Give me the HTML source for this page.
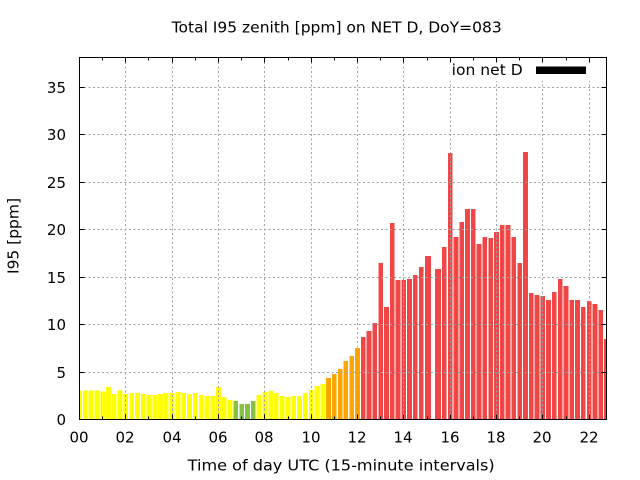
<!DOCTYPE html>
<html>
<head>
<meta charset="utf-8">
<style>
html,body{margin:0;padding:0;background:#fff;}
svg{display:block;}
text{font-family:"DejaVu Sans","Liberation Sans",sans-serif;font-size:15px;fill:#000;}
</style>
</head>
<body>
<svg width="640" height="480" viewBox="0 0 640 480" xmlns="http://www.w3.org/2000/svg">
<rect x="0" y="0" width="640" height="480" fill="#fff"/>
<g shape-rendering="crispEdges" stroke="none">
<path fill="#ffff00" d="M79.5 390.7h2.4V419.5H79.5Z M82.94 390.7h4.7V419.5h-4.7Z M88.73 390.7h4.7V419.5h-4.7Z M94.52 390.7h4.7V419.5h-4.7Z M100.31 391.7h4.7V419.5h-4.7Z M106.11 387h4.7V419.5h-4.7Z M111.9 394h4.7V419.5h-4.7Z M117.69 390.7h4.7V419.5h-4.7Z M123.48 394h4.7V419.5h-4.7Z M129.27 393h4.7V419.5h-4.7Z M135.06 393h4.7V419.5h-4.7Z M140.85 394h4.7V419.5h-4.7Z M146.64 395h4.7V419.5h-4.7Z M152.43 395h4.7V419.5h-4.7Z M158.22 394h4.7V419.5h-4.7Z M164.02 393h4.7V419.5h-4.7Z M169.81 393h4.7V419.5h-4.7Z M175.6 392h4.7V419.5h-4.7Z M181.39 393h4.7V419.5h-4.7Z M187.18 394h4.7V419.5h-4.7Z M192.97 393h4.7V419.5h-4.7Z M198.76 395h4.7V419.5h-4.7Z M204.55 396h4.7V419.5h-4.7Z M210.34 396h4.7V419.5h-4.7Z M216.13 387h4.7V419.5h-4.7Z M221.93 397h4.7V419.5h-4.7Z M227.72 400h4.7V419.5h-4.7Z M256.67 395h4.7V419.5h-4.7Z M262.46 392h4.7V419.5h-4.7Z M268.25 391h4.7V419.5h-4.7Z M274.04 393h4.7V419.5h-4.7Z M279.84 396h4.7V419.5h-4.7Z M285.63 397h4.7V419.5h-4.7Z M291.42 396h4.7V419.5h-4.7Z M297.21 396h4.7V419.5h-4.7Z M303 393h4.7V419.5h-4.7Z M308.79 390h4.7V419.5h-4.7Z M314.58 386h4.7V419.5h-4.7Z M320.37 384h4.7V419.5h-4.7Z"/>
<path fill="#86c242" d="M233.51 401h4.7V419.5h-4.7Z M239.3 404h4.7V419.5h-4.7Z M245.09 404h4.7V419.5h-4.7Z M250.88 401h4.7V419.5h-4.7Z"/>
<path fill="#ffa500" d="M326.16 378h4.7V419.5h-4.7Z M331.95 374h4.7V419.5h-4.7Z M337.75 369h4.7V419.5h-4.7Z M343.54 361h4.7V419.5h-4.7Z M349.33 356h4.7V419.5h-4.7Z M355.12 348h4.7V419.5h-4.7Z"/>
<path fill="#f04646" d="M360.91 337h4.7V419.5h-4.7Z M366.7 331h4.7V419.5h-4.7Z M372.49 323h4.7V419.5h-4.7Z M378.28 263h4.7V419.5h-4.7Z M384.07 307h4.7V419.5h-4.7Z M389.86 223h4.7V419.5h-4.7Z M395.66 280h4.7V419.5h-4.7Z M401.45 280h4.7V419.5h-4.7Z M407.24 279h4.7V419.5h-4.7Z M413.03 275h4.7V419.5h-4.7Z M418.82 267h4.7V419.5h-4.7Z M424.8 256h6.2V419.5h-6.2Z M434.8 269h6V419.5h-6Z M441.98 247h4.7V419.5h-4.7Z M447.77 153h4.7V419.5h-4.7Z M453.57 237h4.7V419.5h-4.7Z M459.36 222h4.7V419.5h-4.7Z M465.15 209h4.7V419.5h-4.7Z M470.94 209h4.7V419.5h-4.7Z M476.73 244h4.7V419.5h-4.7Z M482.52 237h4.7V419.5h-4.7Z M488.31 238h4.7V419.5h-4.7Z M494.1 232h4.7V419.5h-4.7Z M499.89 225h4.7V419.5h-4.7Z M505.68 225h4.7V419.5h-4.7Z M511.48 237h4.7V419.5h-4.7Z M517.27 263h4.7V419.5h-4.7Z M523.06 152h4.7V419.5h-4.7Z M528.85 293h4.7V419.5h-4.7Z M534.64 295h4.7V419.5h-4.7Z M540.43 296h4.7V419.5h-4.7Z M546.22 300h4.7V419.5h-4.7Z M552.01 292h4.7V419.5h-4.7Z M557.8 279h4.7V419.5h-4.7Z M563.59 286h4.7V419.5h-4.7Z M569.39 300h4.7V419.5h-4.7Z M575.18 300h4.7V419.5h-4.7Z M580.97 307h4.7V419.5h-4.7Z M586.76 301h4.7V419.5h-4.7Z M592.55 304h4.7V419.5h-4.7Z M598.34 310h4.7V419.5h-4.7Z M604.13 339h2.37V419.5h-2.37Z"/>
</g>
<g stroke="#a0a0a0" stroke-width="1" stroke-dasharray="2 2.5" fill="none" shape-rendering="crispEdges">
<path d="M125.5 57.5V419.5M172.5 57.5V419.5M218.5 57.5V419.5M264.5 57.5V419.5M311.5 57.5V419.5M357.5 57.5V419.5M403.5 57.5V419.5M450.5 57.5V419.5M496.5 57.5V419.5M542.5 57.5V419.5M589.5 57.5V419.5"/>
<path d="M79.5 372.5H606.5M79.5 324.5H606.5M79.5 277.5H606.5M79.5 229.5H606.5M79.5 182.5H606.5M79.5 134.5H606.5M79.5 87.5H606.5"/>
</g>
<rect x="446" y="58" width="160" height="23" fill="#fff"/>
<text x="451.7" y="75" textLength="71" lengthAdjust="spacingAndGlyphs">ion net D</text>
<rect x="536" y="66.5" width="50" height="7.5" fill="#000"/>
<g stroke="#000" stroke-width="1" fill="none" shape-rendering="crispEdges">
<path d="M125.5 419.5v-5M172.5 419.5v-5M218.5 419.5v-5M264.5 419.5v-5M311.5 419.5v-5M357.5 419.5v-5M403.5 419.5v-5M450.5 419.5v-5M496.5 419.5v-5M542.5 419.5v-5M589.5 419.5v-5M125.5 57.5v5M172.5 57.5v5M218.5 57.5v5M264.5 57.5v5M311.5 57.5v5M357.5 57.5v5M403.5 57.5v5M450.5 57.5v5M496.5 57.5v5M542.5 57.5v5M589.5 57.5v5"/>
<path d="M102.5 419.5v-3M148.5 419.5v-3M195.5 419.5v-3M241.5 419.5v-3M288.5 419.5v-3M334.5 419.5v-3M380.5 419.5v-3M427.5 419.5v-3M473.5 419.5v-3M519.5 419.5v-3M566.5 419.5v-3M102.5 57.5v3M148.5 57.5v3M195.5 57.5v3M241.5 57.5v3M288.5 57.5v3M334.5 57.5v3M380.5 57.5v3M427.5 57.5v3M473.5 57.5v3M519.5 57.5v3M566.5 57.5v3"/>
<path d="M79.5 372.5h5M79.5 324.5h5M79.5 277.5h5M79.5 229.5h5M79.5 182.5h5M79.5 134.5h5M79.5 87.5h5M606.5 372.5h-5M606.5 324.5h-5M606.5 277.5h-5M606.5 229.5h-5M606.5 182.5h-5M606.5 134.5h-5M606.5 87.5h-5"/>
<rect x="79.5" y="57.5" width="527" height="362"/>
</g>
<g text-anchor="end">
<text x="66" y="425">0</text>
<text x="66" y="377.8">5</text>
<text x="66" y="329.8">10</text>
<text x="66" y="282.8">15</text>
<text x="66" y="234.8">20</text>
<text x="66" y="187.8">25</text>
<text x="66" y="139.8">30</text>
<text x="66" y="92.8">35</text>
</g>
<g text-anchor="middle">
<text x="79" y="442.5">00</text>
<text x="125" y="442.5">02</text>
<text x="172" y="442.5">04</text>
<text x="218" y="442.5">06</text>
<text x="264" y="442.5">08</text>
<text x="311" y="442.5">10</text>
<text x="357" y="442.5">12</text>
<text x="403" y="442.5">14</text>
<text x="450" y="442.5">16</text>
<text x="496" y="442.5">18</text>
<text x="542" y="442.5">20</text>
<text x="589" y="442.5">22</text>
</g>
<text x="171.7" y="32.5" textLength="330" lengthAdjust="spacingAndGlyphs">Total I95 zenith [ppm] on NET D, DoY=083</text>
<text x="187.7" y="470.7" textLength="307" lengthAdjust="spacingAndGlyphs">Time of day UTC (15-minute intervals)</text>
<text transform="translate(18.5,236) rotate(-90)" text-anchor="middle" textLength="76" lengthAdjust="spacingAndGlyphs">I95 [ppm]</text>
</svg>
</body>
</html>
